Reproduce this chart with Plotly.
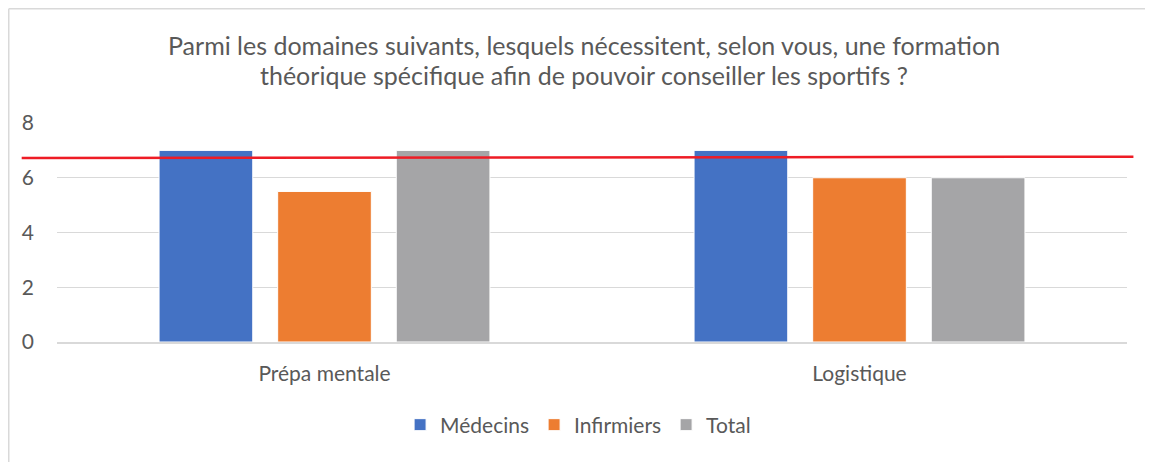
import plotly.graph_objects as go

TEXT = "#595959"
GRID = "#d9d9d9"
FONT = "Lato, Carlito, Calibri, sans-serif"

categories = ["Prépa mentale", "Logistique"]
series_names = ["Médecins", "Infirmiers", "Total"]
medecins = [7, 7]
infirmiers = [5.5, 6]
total = [7, 6]
series_colors = ["#4472c4", "#ed7d31", "#a5a5a7"]

# hand-drawn red reference line (value at left end, value at right end)
ref_line = [6.72, 6.77]

title_lines = [
    "Parmi les domaines suivants, lesquels nécessitent, selon vous, une formation",
    "théorique spécifique afin de pouvoir conseiller les sportifs ?",
]

fig = go.Figure()
for name, vals, color in zip(series_names, [medecins, infirmiers, total], series_colors):
    fig.add_trace(go.Bar(
        x=categories,
        y=vals,
        name=name,
        marker=dict(color=color, line=dict(color="white", width=1)),
    ))

fig.add_shape(type="line", xref="paper", yref="y",
              x0=-0.033, x1=1.006, y0=ref_line[0], y1=ref_line[1],
              line=dict(color="#ee1c25", width=2.5))

# chart frame (left and top edges only visible)
fig.add_shape(type="line", xref="paper", yref="paper",
              x0=-0.0451, x1=-0.0451, y0=-0.7, y1=1.5217,
              line=dict(color=GRID, width=1.5))
fig.add_shape(type="line", xref="paper", yref="paper",
              x0=-0.0451, x1=1.04, y0=1.5217, y1=1.5217,
              line=dict(color=GRID, width=1.5))

# two-line title, placed line by line
for line, ypos in zip(title_lines, [1.356, 1.219]):
    fig.add_annotation(text=line, xref="paper", yref="paper", x=0.4925, y=ypos,
                       xanchor="center", yanchor="middle", showarrow=False,
                       font=dict(size=25, color=TEXT))

fig.update_layout(
    width=1153,
    height=462,
    margin=dict(l=49, r=34, t=115, b=128),
    paper_bgcolor="white",
    plot_bgcolor="white",
    font=dict(family=FONT, color=TEXT, size=16),
    barmode="group",
    bargap=0.335,
    bargroupgap=0.21,
    legend=dict(orientation="h", x=0.487, xanchor="center", y=-0.379, yanchor="middle",
                font=dict(size=21, color=TEXT), itemwidth=30, traceorder="normal"),
)
fig.update_yaxes(range=[0, 8], dtick=2, showgrid=True, gridcolor=GRID, gridwidth=1,
                 zeroline=False, showline=False, ticklabelstandoff=22,
                 tickfont=dict(size=21, color=TEXT))
fig.update_xaxes(showline=True, linecolor=GRID, linewidth=1.5, ticks="",
                 ticklabelstandoff=12, tickfont=dict(size=21, color=TEXT))

fig.write_html("out.html")
